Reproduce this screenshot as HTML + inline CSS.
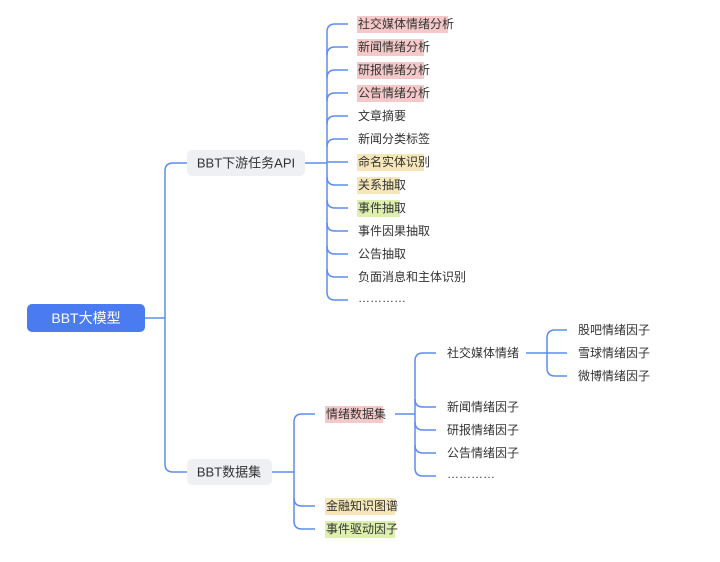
<!DOCTYPE html>
<html><head><meta charset="utf-8"><style>
html,body{margin:0;padding:0;background:#fff;}
svg text{font-family:"Liberation Sans","Noto Sans CJK SC",sans-serif;font-size:12px;fill:#333;dominant-baseline:central;}
</style></head><body>
<svg width="720" height="557" viewBox="0 0 720 557" xmlns="http://www.w3.org/2000/svg">
<g fill="none" stroke="#5b8def" stroke-width="1.5">
<!-- root -->
<path d="M145 318 H165"/>
<path d="M187 163 H173 Q165 163 165 171 V464 Q165 472 173 472 H187"/>
<!-- API branch -->
<path d="M305 163 H327"/>
<path d="M327 32 V292"/>
<path d="M348 24 H335 Q327 24 327 32"/>
<path d="M348 47 H335 Q327 47 327 55"/>
<path d="M348 70 H335 Q327 70 327 78"/>
<path d="M348 93 H335 Q327 93 327 101"/>
<path d="M348 116 H335 Q327 116 327 124"/>
<path d="M348 139 H335 Q327 139 327 147"/>
<path d="M348 162 H327"/>
<path d="M348 185 H335 Q327 185 327 177"/>
<path d="M348 208 H335 Q327 208 327 200"/>
<path d="M348 231 H335 Q327 231 327 223"/>
<path d="M348 254 H335 Q327 254 327 246"/>
<path d="M348 277 H335 Q327 277 327 269"/>
<path d="M348 300 H335 Q327 300 327 292"/>
<!-- dataset branch -->
<path d="M272 472 H294"/>
<path d="M315 414 H302 Q294 414 294 422 V521 Q294 529 302 529 H315"/>
<path d="M315 506 H302 Q294 506 294 498"/>
<!-- emotion dataset -->
<path d="M395 414 H415"/>
<path d="M436 353 H423 Q415 353 415 361 V468 Q415 476 423 476 H436"/>
<path d="M436 407 H423 Q415 407 415 399"/>
<path d="M436 430 H423 Q415 430 415 422"/>
<path d="M436 453 H423 Q415 453 415 445"/>
<!-- social -->
<path d="M526 353 H567"/>
<path d="M567 330 H555 Q547 330 547 338 V368 Q547 376 555 376 H567"/>
</g>
<!-- root node -->
<rect x="27" y="304" width="118" height="28" rx="5" fill="#4a7bf0"/>
<text x="86" y="318" text-anchor="middle" style="fill:#fff;font-size:14px">BBT大模型</text>
<rect x="187" y="150" width="118" height="26" rx="5" fill="#eff0f3"/>
<text x="246" y="163" text-anchor="middle" style="font-size:13px">BBT下游任务API</text>
<rect x="187" y="459" width="85" height="26" rx="5" fill="#eff0f3"/>
<text x="229" y="472" text-anchor="middle" style="font-size:13px">BBT数据集</text>
<!-- highlights -->
<g>
<rect x="357" y="16" width="91" height="17" fill="#f5c9c9"/>
<rect x="357" y="39" width="67" height="17" fill="#f5c9c9"/>
<rect x="357" y="62" width="67" height="17" fill="#f5c9c9"/>
<rect x="357" y="85" width="67" height="17" fill="#f5c9c9"/>
<rect x="357" y="154" width="67" height="17" fill="#f6e7b8"/>
<rect x="357" y="177" width="43" height="17" fill="#f6e7b8"/>
<rect x="357" y="200" width="43" height="17" fill="#def0ae"/>
<rect x="325" y="406" width="58" height="17" fill="#f5c9c9"/>
<rect x="325" y="498" width="70" height="17" fill="#f6e7b8"/>
<rect x="325" y="521" width="70" height="17" fill="#def0ae"/>
</g>
<text x="358" y="24">社交媒体情绪分析</text>
<text x="358" y="47">新闻情绪分析</text>
<text x="358" y="70">研报情绪分析</text>
<text x="358" y="93">公告情绪分析</text>
<text x="358" y="116">文章摘要</text>
<text x="358" y="139">新闻分类标签</text>
<text x="358" y="162">命名实体识别</text>
<text x="358" y="185">关系抽取</text>
<text x="358" y="208">事件抽取</text>
<text x="358" y="231">事件因果抽取</text>
<text x="358" y="254">公告抽取</text>
<text x="358" y="277">负面消息和主体识别</text>
<text x="358" y="298">…………</text>
<text x="326" y="414">情绪数据集</text>
<text x="326" y="506">金融知识图谱</text>
<text x="326" y="529">事件驱动因子</text>
<text x="447" y="353">社交媒体情绪</text>
<text x="447" y="407">新闻情绪因子</text>
<text x="447" y="430">研报情绪因子</text>
<text x="447" y="453">公告情绪因子</text>
<text x="447" y="474">…………</text>
<text x="578" y="330">股吧情绪因子</text>
<text x="578" y="353">雪球情绪因子</text>
<text x="578" y="376">微博情绪因子</text>
</svg>
</body></html>
